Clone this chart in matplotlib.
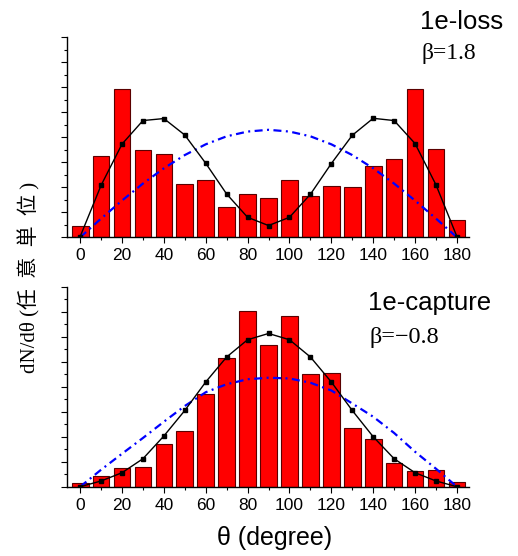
import numpy as np
import matplotlib
matplotlib.use('Agg')
import matplotlib.pyplot as plt
from matplotlib.ticker import MultipleLocator

# angle bins (degree)
theta = [0, 10, 20, 30, 40, 50, 60, 70, 80, 90, 100, 110, 120, 130, 140, 150, 160, 170, 180]

# 1e-loss panel
lossBars = [0.47, 3.27, 5.92, 3.49, 3.32, 2.15, 2.31, 1.2, 1.73, 1.56, 2.28, 1.67, 2.04, 2.01, 2.87, 3.13, 5.92, 3.55, 0.68]
lossFit = [0.03, 2.08, 3.73, 4.67, 4.75, 4.09, 2.96, 1.73, 0.8, 0.47, 0.8, 1.72, 2.95, 4.08, 4.76, 4.67, 3.75, 2.1, 0.03]
lossIso = [0.0, 0.75, 1.47, 2.15, 2.76, 3.29, 3.72, 4.04, 4.23, 4.3, 4.23, 4.04, 3.72, 3.29, 2.76, 2.15, 1.47, 0.75, 0.0]

# 1e-capture panel
capBars = [0.13, 0.44, 0.73, 0.8, 1.71, 2.21, 3.69, 5.13, 7.04, 5.68, 6.83, 4.49, 4.53, 2.35, 1.92, 0.95, 0.61, 0.65, 0.19]
capFit = [0.0, 0.23, 0.56, 1.12, 2.03, 3.05, 4.19, 5.19, 5.88, 6.13, 5.88, 5.19, 4.19, 3.05, 2.0, 1.12, 0.56, 0.23, 0.0]
capIso = [0.0, 0.68, 1.32, 1.95, 2.6, 3.23, 3.78, 4.1, 4.3, 4.36, 4.33, 4.16, 3.85, 3.33, 2.8, 2.15, 1.4, 0.72, 0.0]

xticks = [0, 20, 40, 60, 80, 100, 120, 140, 160, 180]

sans = 'Liberation Sans'
serif = 'Liberation Serif'

fig = plt.figure(figsize=(5.18, 5.56), dpi=100)
axTop = fig.add_axes([0.1293, 0.5732, 0.777, 0.3597])
axBot = fig.add_axes([0.1293, 0.1246, 0.777, 0.3597])

def drawPanel(ax, bars, fit, iso):
    ax.bar(theta, bars, width=8, color='#ff0000', edgecolor='#5a0000', linewidth=0.8, zorder=1)
    ax.plot(theta, iso, color='#0000ff', linewidth=1.6, linestyle=(0, (3.6, 2, 0.9, 2)), zorder=2)
    ax.plot(theta, fit, color='black', linewidth=1, marker='s', markersize=3.5, zorder=3)
    ax.set_xlim(-6.3, 186)
    ax.set_ylim(0, 8)
    ax.spines['top'].set_visible(False)
    ax.spines['right'].set_visible(False)
    ax.xaxis.set_major_locator(MultipleLocator(20))
    ax.xaxis.set_minor_locator(MultipleLocator(10))
    ax.yaxis.set_major_locator(MultipleLocator(1))
    ax.yaxis.set_minor_locator(MultipleLocator(0.5))
    ax.set_xticks(xticks)
    ax.set_xticklabels([str(t) for t in xticks], fontfamily=sans, fontsize=12.5)
    ax.set_yticklabels([])
    ax.tick_params(which='major', direction='out', length=4, width=0.8, pad=4)
    ax.tick_params(which='minor', direction='out', length=2.5, width=0.8)
    for s in ['left', 'bottom']:
        ax.spines[s].set_linewidth(1)

drawPanel(axTop, lossBars, lossFit, lossIso)
drawPanel(axBot, capBars, capFit, capIso)

fig.text(462/518, 1-22/556, '1e-loss', fontfamily=sans, fontsize=18.5, ha='center', va='center')
fig.text(449/518, 1-53/556, 'β=1.8', fontfamily=serif, fontsize=17, ha='center', va='center')
fig.text(430/518, 1-303/556, '1e-capture', fontfamily=sans, fontsize=18.5, ha='center', va='center')
fig.text(404/518, 1-338/556, 'β=\u22120.8', fontfamily=serif, fontsize=17.5, ha='center', va='center')

fig.text(29/518, 1-277/556, 'dN/dθ (任  意  単  位 )', rotation=90,
         family=[serif, 'Noto Sans CJK JP'], fontsize=15, ha='center', va='center')
fig.text(275/518, 1-538/556, 'θ (degree)', family=[sans], fontsize=18, ha='center', va='center')

plt.savefig('out.png', dpi=100)
